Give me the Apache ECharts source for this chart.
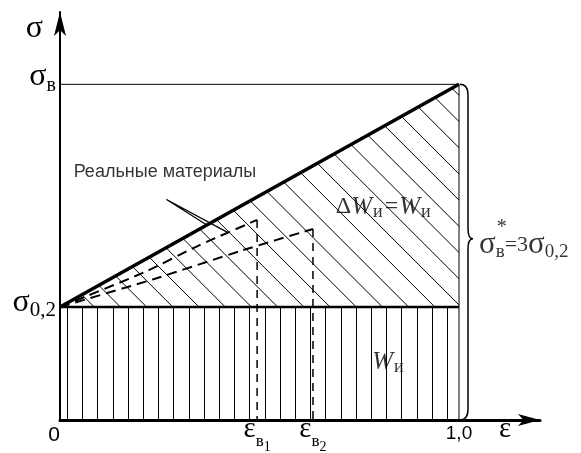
<!DOCTYPE html>
<html><head><meta charset="utf-8">
<script src="https://cdn.jsdelivr.net/npm/echarts@6/dist/echarts.min.js"></script>
<style>html,body{margin:0;padding:0;background:#fff}#c{width:581px;height:453px}</style>
</head><body><div id="c"></div>
<script>
// ---------------- data (relative units: σ in units of σ0,2, ε in units of the ideal εв) ----------------
const sigma02 = 1.0;            // σ0,2
const sigmaB = 2.97;            // σв  (≈ 3σ0,2)
const strainEnd = 1.0;          // ε = 1,0
const epsB1 = 0.494;            // εв1
const epsB2 = 0.634;            // εв2
const idealLine = [[0, 1.0], [1.0, 2.97]];
const realCurve1 = [[0, 1.0], [0.213, 1.31], [0.351, 1.55], [0.494, 1.77]];
const realCurve2 = [[0, 1.0], [0.238, 1.25], [0.456, 1.50], [0.634, 1.69]];
const leaderLines = [[0.421, 1.658], [0.267, 1.951], [0.368, 1.725]];
const xTickValues = [0, 0.494, 0.634, 1.0];
const xTickNames = ['0', 'εв1', 'εв2', '1,0'];
const yTickValues = [1.0, 2.97];
const yTickNames = ['σ0,2', 'σв'];

// ---------------- styles ----------------
const SERIF = "'Liberation Serif','Times New Roman',serif";
const SANS = "'Liberation Sans',Arial,sans-serif";
const BLACK = '#000';

function xLabel(v) {
  const i = xTickValues.findIndex(t => Math.abs(t - v) < 1e-6);
  const n = xTickNames[i];
  if (n === '0') return '{z|0}';
  if (n === '1,0') return '{o|1,0}';
  return '{e|ε}{s|в}{t|' + n.slice(2) + '}';
}
function yLabel(v) {
  const i = yTickValues.findIndex(t => Math.abs(t - v) < 1e-6);
  const n = yTickNames[i];
  if (n === 'σв') return '{gA|σ}{sA|в}';
  return '{gB|σ}{sB|0,2}';
}

function renderHatch(params, api) {
  const x0 = api.value(0), x1 = api.value(1), yLow = api.value(2), yTop = api.value(3);
  const pBL = api.coord([x0, 0]), pLow = api.coord([x0, yLow]);
  const pR = api.coord([x1, yLow]), pTop = api.coord([x1, yTop]);
  const X0 = pBL[0], Y0 = pBL[1], X1 = pR[0], Y02 = pLow[1], YB = pTop[1];
  const st = { stroke: BLACK, lineWidth: 1 };
  const children = [];
  // vertical hatching of the plastic-work rectangle
  for (let x = X0 + 7; x < X1 - 3; x += 15.2) {
    const xx = Math.round(x) + 0.5;
    children.push({ type: 'line', shape: { x1: xx, y1: Y02, x2: xx, y2: Y0 - 1 }, style: st });
  }
  // diagonal hatching of the triangle above σ0,2
  const s = (Y02 - YB) / (X1 - X0);
  const cMin = YB - X1, cMax = Y02 - X0;
  for (let c = cMin + 11; c < cMax; c += 26.2) {
    const xt = (Y02 + s * X0 - c) / (1 + s);
    const yt = xt + c;
    let xb = Y02 - c, yb = Y02;
    if (xb > X1) { xb = X1; yb = X1 + c; }
    children.push({ type: 'line', shape: { x1: xt, y1: yt, x2: xb, y2: yb }, style: st });
  }
  return { type: 'group', children };
}

function renderBrace(params, api) {
  const top = api.coord([api.value(0), api.value(2)]);
  const bot = api.coord([api.value(0), api.value(1)]);
  const X = top[0] + 1, T = top[1], B = bot[1], M = T + (B - T) * 0.46, w = 8;
  const d = `M${X} ${T} Q${X + w} ${T} ${X + w} ${T + 11} L${X + w} ${M - 10} Q${X + w} ${M} ${X + w + 5} ${M} ` +
            `Q${X + w} ${M} ${X + w} ${M + 10} L${X + w} ${B - 11} Q${X + w} ${B} ${X} ${B}`;
  return { type: 'path', shape: { pathData: d }, style: { stroke: BLACK, fill: 'none', lineWidth: 1.5 } };
}

const lineBase = { type: 'line', symbol: 'none', silent: true, animation: false, z: 3 };

const chart = echarts.init(document.getElementById('c'), null, { renderer: 'canvas', width: 581, height: 453 });
chart.setOption({
  backgroundColor: '#fff',
  animation: false,
  grid: { left: 60, right: 41, top: 12, bottom: 33, containLabel: false, outerBoundsMode: 'none' },
  xAxis: {
    type: 'value', min: 0, max: 1.203,
    name: '{e|ε}', nameLocation: 'end', nameGap: -35,
    nameTextStyle: { align: 'center', verticalAlign: 'middle', padding: [18, 0, 0, 0],
      rich: { e: { fontFamily: SERIF, fontSize: 29, color: BLACK } } },
    axisLine: { show: true, onZero: false, lineStyle: { color: BLACK, width: 3 }, symbol: ['none', 'arrow'], symbolSize: [9, 22] },
    axisTick: { show: false }, splitLine: { show: false },
    axisLabel: {
      customValues: xTickValues, formatter: xLabel, margin: 9, verticalAlign: 'middle', color: BLACK,
      rich: {
        z: { fontFamily: SANS, fontSize: 21, color: BLACK, verticalAlign: 'middle', padding: [12, 12, 0, 0] },
        o: { fontFamily: SANS, fontSize: 19, color: BLACK, verticalAlign: 'middle', padding: [9, 0, 0, 0] },
        e: { fontFamily: SERIF, fontSize: 29, color: BLACK, verticalAlign: 'middle' },
        s: { fontFamily: SERIF, fontSize: 17, color: BLACK, verticalAlign: 'middle', padding: [26, 0, 0, 0] },
        t: { fontFamily: SERIF, fontSize: 14, color: BLACK, verticalAlign: 'middle', padding: [36, 0, 0, 0] }
      }
    }
  },
  yAxis: {
    type: 'value', min: 0, max: 3.61,
    name: '{g|σ}', nameLocation: 'end', nameGap: -16.5,
    nameTextStyle: { align: 'right', verticalAlign: 'middle', padding: [0, 17, 0, 0],
      rich: { g: { fontFamily: SERIF, fontSize: 32, color: BLACK } } },
    axisLine: { show: true, onZero: false, lineStyle: { color: BLACK, width: 2 }, symbol: ['none', 'arrow'], symbolSize: [9, 24] },
    axisTick: { show: false }, splitLine: { show: false },
    axisLabel: {
      customValues: yTickValues, formatter: yLabel, margin: 4, color: BLACK,
      rich: {
        gA: { fontFamily: SERIF, fontSize: 32, color: BLACK, verticalAlign: 'middle', padding: [0, 0, 16, 0] },
        sA: { fontFamily: SERIF, fontSize: 20, color: BLACK, verticalAlign: 'middle', padding: [2, 0, 0, 0] },
        gB: { fontFamily: SERIF, fontSize: 32, color: BLACK, verticalAlign: 'middle', padding: [0, 0, 8, 0] },
        sB: { fontFamily: SERIF, fontSize: 21, color: BLACK, verticalAlign: 'middle', padding: [8, 0, 0, 0] }
      }
    }
  },
  series: [
    { type: 'custom', name: 'hatch', renderItem: renderHatch, silent: true, z: 1,
      data: [[0, strainEnd, sigma02, sigmaB]], clip: false },
    Object.assign({}, lineBase, { name: 'frame', data: [[0, sigmaB], [strainEnd, sigmaB], [strainEnd, 0]],
      lineStyle: { color: BLACK, width: 1 } }),
    Object.assign({}, lineBase, { name: 'σ0,2 level', data: [[0, sigma02], [strainEnd, sigma02]],
      lineStyle: { color: BLACK, width: 2.5 } }),
    Object.assign({}, lineBase, { name: 'ideal', data: idealLine, lineStyle: { color: BLACK, width: 3.5 } }),
    Object.assign({}, lineBase, { name: 'real 1', data: realCurve1, smooth: 0.2,
      lineStyle: { color: BLACK, width: 2, type: [10, 6] } }),
    Object.assign({}, lineBase, { name: 'real 2', data: realCurve2, smooth: 0.2,
      lineStyle: { color: BLACK, width: 2, type: [10, 6] } }),
    Object.assign({}, lineBase, { name: 'εв1 drop', data: [realCurve1[realCurve1.length - 1], [epsB1, 0]],
      lineStyle: { color: BLACK, width: 1.5, type: [8, 6] } }),
    Object.assign({}, lineBase, { name: 'εв2 drop', data: [realCurve2[realCurve2.length - 1], [epsB2, 0]],
      lineStyle: { color: BLACK, width: 1.5, type: [8, 6] } }),
    Object.assign({}, lineBase, { name: 'leader', data: leaderLines, lineStyle: { color: BLACK, width: 1.2 } }),
    { type: 'custom', name: 'brace', renderItem: renderBrace, silent: true, clip: false, z: 3,
      data: [[strainEnd, 0, sigmaB]] },
    { type: 'scatter', name: 'annotations', symbolSize: 0, silent: true, z: 5,
      data: [
        { value: [0.263, 2.19], label: { show: true, position: 'inside', align: 'center', verticalAlign: 'middle',
            formatter: 'Реальные материалы', fontFamily: SANS, fontSize: 18, color: BLACK } },
        { value: [0.81, 1.885], label: { show: true, position: 'inside', align: 'center', verticalAlign: 'middle',
            formatter: '{d|Δ}{i|W}{s|и}{n|=}{i|W}{s|и}',
            rich: { d: { fontFamily: SERIF, fontSize: 24, color: BLACK },
                    i: { fontFamily: SERIF, fontSize: 25, fontStyle: 'italic', color: BLACK },
                    n: { fontFamily: SERIF, fontSize: 24, color: BLACK, padding: [0, 1, 0, 2] },
                    s: { fontFamily: SERIF, fontSize: 18, color: BLACK, padding: [10, 0, 0, 1] } } } },
        { value: [0.822, 0.513], label: { show: true, position: 'inside', align: 'center', verticalAlign: 'middle',
            formatter: '{i|W}{s|и}',
            rich: { i: { fontFamily: SERIF, fontSize: 25, fontStyle: 'italic', color: BLACK },
                    s: { fontFamily: SERIF, fontSize: 18, color: BLACK, padding: [10, 0, 0, 1] } } } },
        { value: [1.05, 1.549], label: { show: true, position: 'inside', align: 'left', verticalAlign: 'middle',
            formatter: '{g|σ}{s|в}{n|=3}{g|σ}{s|0,2}',
            rich: { g: { fontFamily: SERIF, fontSize: 31, color: BLACK },
                    n: { fontFamily: SERIF, fontSize: 22, color: BLACK },
                    s: { fontFamily: SERIF, fontSize: 19, color: BLACK, padding: [14, 0, 0, 0] } } } },
        { value: [1.107, 1.70], label: { show: true, position: 'inside', align: 'center', verticalAlign: 'middle',
            formatter: '*', fontFamily: SERIF, fontSize: 20, color: BLACK } }
      ] }
  ]
});
</script></body></html>
